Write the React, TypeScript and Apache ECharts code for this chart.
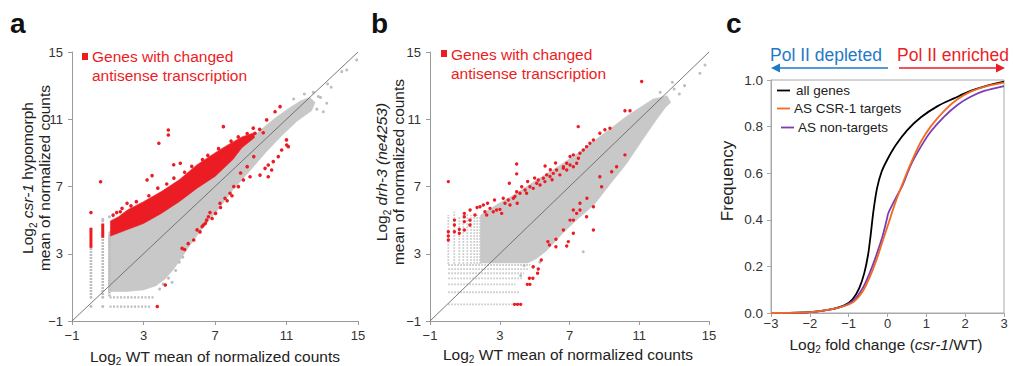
import React, { useEffect, useRef } from 'react';
import * as echarts from 'echarts';

const FONT = '"Liberation Sans", Arial, Helvetica, sans-serif';

// ---------- axes ----------
const scatterMin = -1;
const scatterMax = 15;
const scatterStep = 4;
const cdfXMin = -3;
const cdfXMax = 3;
const cdfXStep = 1;
const cdfYMin = 0;
const cdfYMax = 1;
const cdfYStep = 0.2;

// ---------- panel a (csr-1 hypomorph vs WT) ----------
const cloudA = [
  [1.05, 0.75], [1.05, 4.3], [2.0, 4.7], [3.0, 5.1], [4.0, 5.7], [5.0, 6.4], [6.0, 7.2], [7.0, 8.0],
  [8.0, 8.9], [9.0, 9.8], [9.6, 10.4], [10.4, 11.1], [11.2, 11.7], [11.8, 12.1], [12.3, 12.3],
  [12.6, 12.0], [12.4, 11.5], [11.6, 10.9], [10.8, 10.1], [9.9, 9.1], [9.0, 8.0], [8.0, 6.8],
  [7.3, 5.8], [6.6, 4.9], [6.0, 4.1], [5.4, 3.2], [4.7, 2.1], [4.2, 1.5], [3.7, 1.1], [3.0, 0.85], [2.0, 0.75],
];
const redBandA = [
  [1.15, 4.95], [1.6, 5.2], [2.1, 5.6], [3.0, 6.1], [4.0, 6.7], [5.0, 7.4], [6.0, 8.3], [7.0, 9.0],
  [7.6, 9.4], [8.5, 9.95], [9.2, 10.2], [9.2, 9.9], [8.5, 9.3], [8.0, 8.6], [7.0, 7.6], [6.0, 6.9],
  [5.0, 6.1], [4.0, 5.4], [3.0, 4.8], [2.0, 4.4], [1.15, 4.05],
];
const grayStripesA = [[0.06, 0.55, 3.35], [0.72, 0.55, 3.95], [1.09, 0.45, 4.1]];
const redStripesA = [[0.06, 3.35, 4.55], [0.72, 3.95, 4.8]];
const grayRowsA = [[0.41, 1.1, 3.64], [-0.14, 1.1, 3.45]];
const redPointsA = [
  [0.06, 5.45], [0.6, 7.28], [1.7, 5.5], [2.08, 6.0], [3.2, 7.39], [3.48, 7.65], [3.86, 9.57], [4.39, 10.36],
  [4.39, 10.06], [4.69, 8.29], [5.06, 8.38], [7.47, 10.56], [8.96, 9.97], [9.14, 10.47], [9.24, 10.17],
  [9.89, 10.96], [10.36, 11.45], [10.64, 11.75],
  [1.3, 5.3], [1.5, 5.45], [1.8, 5.7], [2.3, 5.85], [2.6, 6.1], [3.3, 6.45], [3.8, 6.9], [4.3, 7.15],
  [4.7, 7.5], [5.3, 7.85], [5.7, 8.2], [6.3, 8.6], [6.6, 8.85], [7.2, 9.25], [7.9, 9.7], [8.3, 9.95],
  [8.8, 10.15], [9.5, 10.4], [9.7, 10.2],
  [3.77, -0.14], [4.22, 1.14], [5.16, 3.32], [5.3, 3.25], [5.5, 3.6], [5.81, 3.82], [6.0, 4.42], [6.16, 4.3],
  [6.28, 4.62], [6.46, 4.81], [6.35, 4.71], [6.53, 5.0], [6.63, 5.2], [6.84, 5.1], [7.03, 5.4], [6.72, 5.45],
  [7.28, 6.0], [7.31, 5.75], [7.56, 6.3], [7.68, 6.15], [7.84, 6.6], [7.95, 6.45], [8.05, 7.0], [8.31, 6.99],
  [8.43, 7.8], [8.59, 7.39], [8.8, 8.18], [8.96, 7.58], [9.17, 8.78], [9.52, 7.68], [9.8, 8.08], [9.98, 7.58],
  [9.98, 8.28], [10.17, 7.98], [10.26, 8.48], [10.54, 8.78], [10.73, 9.17], [11.0, 9.77], [11.01, 9.47], [11.1, 9.37],
];
const grayPointsA = [
  [0.06, 0.41], [0.72, 0.41], [0.06, -0.14], [0.72, -0.14], [0.72, 5.05], [0.72, 4.95], [1.09, 5.2],
  [3.9, 0.9], [4.1, 1.2], [4.4, 1.55], [4.6, 1.3], [4.8, 2.0], [5.0, 2.5], [5.2, 2.8],
  [12.78, 12.35], [13.06, 11.45], [13.25, 11.95], [14.09, 13.83], [14.37, 13.93], [14.93, 14.53],
  [12.5, 12.6], [12.9, 12.3], [12.0, 12.5], [11.4, 12.2], [13.5, 12.9], [12.7, 11.6], [13.3, 13.1],
];

// ---------- panel b (drh-3 vs WT) ----------
const cloudB = [
  [1.9, 2.45], [1.9, 5.3], [2.8, 5.9], [3.8, 6.5], [4.7, 7.1], [5.6, 7.7], [6.5, 8.3], [7.5, 9.0],
  [8.4, 9.7], [9.3, 10.4], [10.3, 11.2], [11.2, 11.8], [11.8, 12.2], [12.6, 12.4], [12.8, 12.0],
  [12.5, 11.7], [12.0, 11.0], [11.2, 9.8], [10.3, 8.4], [9.3, 7.1], [8.4, 5.9], [7.5, 5.1], [6.6, 4.2],
  [5.7, 3.2], [5.1, 2.7], [4.6, 2.45],
];
const grayStripesB = [
  [0.05, 2.4, 5.3], [0.39, 2.4, 5.5], [0.68, 2.4, 5.2], [0.91, 2.4, 5.3], [1.14, 2.4, 5.4],
  [1.35, 2.4, 5.3], [1.54, 2.4, 5.4], [1.71, 2.4, 5.3], [1.87, 2.4, 5.2],
];
const grayRowsB = [
  [-0.01, 0.05, 3.8], [0.71, 0.05, 4.17], [1.18, 0.05, 3.9], [1.54, 0.05, 4.3],
  [1.84, 0.05, 4.4], [2.09, 0.05, 4.65], [2.33, 0.05, 4.75],
];
const redPointsB = [
  [0.05, 7.29], [0.05, 4.31], [0.05, 4.06], [0.05, 3.82], [0.4, 5.0], [0.4, 4.71], [0.4, 4.31], [0.68, 4.45],
  [0.68, 4.22], [0.97, 5.4], [0.97, 5.2], [0.97, 4.91], [0.97, 4.41], [1.29, 4.71], [1.29, 5.0], [1.58, 5.31],
  [1.87, 5.8], [2.06, 5.9], [2.15, 5.5], [2.25, 5.31], [2.44, 5.7], [2.63, 5.5], [2.82, 5.6], [3.01, 5.64],
  [3.11, 5.4], [3.3, 6.0], [3.49, 6.2], [3.59, 5.9], [3.78, 6.3], [3.87, 6.4], [3.97, 6.69], [4.16, 6.6],
  [4.26, 6.99], [4.45, 6.79], [4.54, 6.6], [4.73, 6.99], [4.92, 6.89], [5.12, 7.19], [5.21, 7.39], [5.31, 7.09],
  [5.5, 7.49], [5.59, 7.29], [5.69, 7.69], [5.88, 7.59], [6.07, 7.78], [6.26, 7.98], [6.45, 7.69], [6.65, 8.08],
  [6.84, 7.98], [7.03, 8.28], [7.22, 8.18], [7.41, 8.38], [7.51, 8.68], [6.65, 8.18], [6.84, 8.38], [7.03, 8.78],
  [7.22, 8.88], [7.6, 8.98], [7.79, 9.17], [7.98, 9.37], [8.17, 9.57], [8.37, 9.77], [8.74, 10.17], [9.03, 10.37],
  [9.32, 10.47], [10.18, 11.51], [10.47, 11.51], [11.14, 13.24], [7.5, 10.56], [3.97, 8.34], [3.97, 7.75],
  [3.55, 7.19], [5.6, 8.22], [1.3, 5.6], [1.7, 5.75], [2.3, 6.0], [2.7, 6.2], [3.2, 6.3], [4.0, 6.0],
  [4.6, 7.3], [5.0, 7.5], [5.9, 8.0], [6.2, 8.4], [6.0, 7.4],
  [3.85, -0.01], [4.02, -0.01], [4.2, -0.01], [4.58, 1.18], [4.73, 1.18], [4.7, 1.54], [4.9, 1.54],
  [5.17, 1.84], [5.21, 2.09], [4.92, 2.23], [5.38, 2.63], [5.76, 3.72], [5.85, 3.52], [6.22, 3.42],
  [6.22, 3.86], [6.93, 3.72], [7.22, 4.22], [6.84, 3.46], [6.65, 4.41], [7.22, 5.0], [7.41, 5.4], [7.6, 5.6],
  [7.03, 5.0], [7.22, 5.6], [7.6, 6.0], [7.98, 5.2], [8.0, 6.3], [8.37, 5.8], [8.84, 6.99], [8.74, 7.58],
  [9.42, 7.88], [9.7, 8.18], [10.18, 8.88], [8.37, 4.41],
];
const grayPointsB = [
  [14.48, 13.73], [14.77, 14.23], [7.79, 3.12], [13.0, 12.8], [13.3, 12.5], [12.9, 13.2], [13.6, 13.0],
  [4.4, 2.3], [4.9, 2.2], [5.3, 2.5], [4.2, 1.7], [12.2, 12.6],
];

// ---------- panel c (cumulative frequency) ----------
const allGenes = [
  [-3, 0], [-2, 0.004], [-1.46, 0.016], [-1.11, 0.033], [-0.9, 0.059], [-0.73, 0.106], [-0.6, 0.17],
  [-0.5, 0.25], [-0.43, 0.34], [-0.36, 0.44], [-0.27, 0.535], [-0.15, 0.607], [0, 0.66], [0.21, 0.72],
  [0.51, 0.785], [0.86, 0.84], [1.29, 0.888], [1.71, 0.921], [2.14, 0.953], [2.57, 0.976], [3, 0.993],
];
const csr1Targets = [
  [-3, 0], [-2, 0.004], [-1.46, 0.016], [-1.11, 0.03], [-0.86, 0.049], [-0.64, 0.092], [-0.47, 0.149],
  [-0.3, 0.22], [-0.13, 0.306], [0.04, 0.392], [0.21, 0.478], [0.39, 0.556], [0.6, 0.642], [0.86, 0.735],
  [1.11, 0.8], [1.46, 0.868], [1.8, 0.917], [2.14, 0.95], [2.49, 0.971], [3, 0.989],
];
const nonTargets = [
  [-3, 0], [-2, 0.004], [-1.46, 0.016], [-1.11, 0.031], [-0.86, 0.056], [-0.64, 0.106], [-0.47, 0.167],
  [-0.3, 0.242], [-0.13, 0.328], [-0.02, 0.4], [0.02, 0.428], [0.21, 0.492], [0.39, 0.549], [0.6, 0.635],
  [0.86, 0.714], [1.11, 0.778], [1.46, 0.843], [1.8, 0.893], [2.14, 0.928], [2.49, 0.953], [3, 0.974],
];

const RED = '#ec1c24';
const GRAY = '#c8c8c8';
const AXIS = '#9a9a9a';

const fmtMinus = (v: number) => String(v).replace('-', '\u2212');

function polygonSeries(points: number[][], color: string, gi: number) {
  return {
    type: 'custom', xAxisIndex: gi, yAxisIndex: gi, silent: true,
    data: [[points[0][0], points[0][1]]],
    renderItem: (_p: any, api: any) => ({
      type: 'polygon',
      shape: { points: points.map((pt) => api.coord(pt)) },
      style: { fill: color, stroke: color, lineWidth: 0.6 },
    }),
  };
}

function vSegSeries(segs: number[][], color: string, width: number, dash: number[] | null, gi: number) {
  return {
    type: 'custom', xAxisIndex: gi, yAxisIndex: gi, silent: true,
    data: segs,
    renderItem: (_p: any, api: any) => {
      const a = api.coord([api.value(0), api.value(1)]);
      const b = api.coord([api.value(0), api.value(2)]);
      return {
        type: 'line',
        shape: { x1: a[0], y1: a[1], x2: b[0], y2: b[1] },
        style: { stroke: color, lineWidth: width, lineDash: dash || undefined },
      };
    },
  };
}

function hSegSeries(segs: number[][], color: string, width: number, dash: number[] | null, gi: number) {
  return {
    type: 'custom', xAxisIndex: gi, yAxisIndex: gi, silent: true,
    data: segs.map((s) => [s[1], s[0], s[2]]),
    renderItem: (_p: any, api: any) => {
      const a = api.coord([api.value(0), api.value(1)]);
      const b = api.coord([api.value(2), api.value(1)]);
      return {
        type: 'line',
        shape: { x1: a[0], y1: a[1], x2: b[0], y2: b[1] },
        style: { stroke: color, lineWidth: width, lineDash: dash || undefined },
      };
    },
  };
}

function scatterSeries(data: number[][], color: string, size: number, gi: number) {
  return {
    type: 'scatter', xAxisIndex: gi, yAxisIndex: gi, silent: true,
    data, symbol: 'circle', symbolSize: size, itemStyle: { color, opacity: 1 },
  };
}

function diagSeries(gi: number) {
  return {
    type: 'line', xAxisIndex: gi, yAxisIndex: gi, silent: true, showSymbol: false,
    data: [[scatterMin, scatterMin], [scatterMax, scatterMax]],
    lineStyle: { color: '#6a6a6a', width: 0.9 },
  };
}

function cdfSeries(data: number[][], color: string) {
  return {
    type: 'line', xAxisIndex: 2, yAxisIndex: 2, silent: true, showSymbol: false,
    smooth: 0.3, data,
    lineStyle: { color, width: 1.8 },
  };
}

const tickLabel = { color: '#333', fontSize: 13, fontFamily: FONT };

function scatterAxis(gi: number, isY: boolean) {
  return {
    gridIndex: gi, type: 'value', min: scatterMin, max: scatterMax, interval: scatterStep,
    splitLine: { show: false },
    axisLine: { show: true, onZero: false, lineStyle: { color: AXIS, width: 1 } },
    axisTick: { show: true, length: 4, lineStyle: { color: AXIS } },
    axisLabel: { ...tickLabel, margin: isY ? 9 : 8, formatter: fmtMinus, showMinLabel: true, showMaxLabel: true },
  };
}

const richBase = {
  n: { fontSize: 15.5, fontFamily: FONT, fill: '#222', verticalAlign: 'middle', lineHeight: 17 },
  i: { fontSize: 15.5, fontFamily: FONT, fontStyle: 'italic', fill: '#222', verticalAlign: 'middle', lineHeight: 17 },
  s: { fontSize: 10, fontFamily: FONT, fill: '#222', verticalAlign: 'bottom', height: 6 },
};

function richText(x: number, y: number, text: string, rot = 0, extra: any = {}) {
  return {
    type: 'text', x, y, rotation: rot, silent: true,
    style: {
      text, rich: extra.rich || richBase, align: 'center', verticalAlign: 'middle',
      textAlign: 'center', textVerticalAlign: 'middle', fontSize: 15.5, fontFamily: FONT, fill: '#222',
    },
  };
}

function plainText(x: number, y: number, text: string, opts: any) {
  return {
    type: 'text', x, y, silent: true,
    style: {
      text, fontFamily: FONT, align: opts.align || 'left', textAlign: opts.align || 'left',
      verticalAlign: 'middle', textVerticalAlign: 'middle',
      fontSize: opts.size, fontWeight: opts.weight || 'normal', fill: opts.color || '#222',
      lineHeight: opts.lineHeight,
    },
  };
}

export default function App() {
  const ref = useRef<HTMLDivElement>(null);

  useEffect(() => {
    if (!ref.current) return;
    const chart = echarts.init(ref.current, undefined, { renderer: 'svg' });

    const legendLines = [
      { y: 90.5, color: '#000000', x1: 777, x2: 790, text: 'all genes', tx: 796 },
      { y: 108.5, color: '#f26b21', x1: 777, x2: 790, text: 'AS CSR-1 targets', tx: 794 },
      { y: 127.5, color: '#7a3db8', x1: 781, x2: 794, text: 'AS non-targets', tx: 798 },
    ];

    const option: any = {
      animation: false,
      backgroundColor: '#ffffff',
      grid: [
        { left: 72, top: 52, width: 286, height: 269 },
        { left: 430, top: 52, width: 279, height: 269 },
        { left: 771, top: 80, width: 233, height: 233, show: true, borderColor: '#a8a8a8', borderWidth: 1, backgroundColor: 'transparent' },
      ],
      xAxis: [
        scatterAxis(0, false),
        scatterAxis(1, false),
        {
          gridIndex: 2, type: 'value', min: cdfXMin, max: cdfXMax, interval: cdfXStep,
          splitLine: { show: false },
          axisLine: { show: true, onZero: false, lineStyle: { color: '#a8a8a8' } },
          axisTick: { show: true, length: 4, lineStyle: { color: '#a8a8a8' } },
          axisLabel: { ...tickLabel, fontSize: 13, margin: 4, formatter: fmtMinus, showMinLabel: true, showMaxLabel: true },
        },
      ],
      yAxis: [
        scatterAxis(0, true),
        scatterAxis(1, true),
        {
          gridIndex: 2, type: 'value', min: cdfYMin, max: cdfYMax, interval: cdfYStep,
          splitLine: { show: false },
          axisLine: { show: true, onZero: false, lineStyle: { color: '#a8a8a8' } },
          axisTick: { show: true, length: 4, lineStyle: { color: '#a8a8a8' } },
          axisLabel: { ...tickLabel, fontSize: 13.5, margin: 8, formatter: (v: number) => v.toFixed(1), showMinLabel: true, showMaxLabel: true },
        },
      ],
      series: [
        // panel a
        polygonSeries(cloudA, GRAY, 0),
        vSegSeries(grayStripesA, '#bdbdbd', 2.6, [2, 1], 0),
        hSegSeries(grayRowsA, '#bdbdbd', 2.2, [2, 1.5], 0),
        scatterSeries(grayPointsA, '#bdbdbd', 3, 0),
        diagSeries(0),
        polygonSeries(redBandA, RED, 0),
        vSegSeries(redStripesA, RED, 3, null, 0),
        scatterSeries(redPointsA, RED, 3.6, 0),
        // panel b
        polygonSeries(cloudB, GRAY, 1),
        vSegSeries(grayStripesB, '#c4c4c4', 1.8, [1.5, 1.5], 1),
        hSegSeries(grayRowsB, '#c4c4c4', 1.8, [1.5, 1.5], 1),
        scatterSeries(grayPointsB, '#bdbdbd', 3, 1),
        diagSeries(1),
        scatterSeries(redPointsB, RED, 3.4, 1),
        // panel c (orange drawn last, on top, as in the reference)
        cdfSeries(allGenes, '#000000'),
        cdfSeries(nonTargets, '#7a3db8'),
        cdfSeries(csr1Targets, '#f26b21'),
      ],
      graphic: [
        // panel letters
        plainText(10, 23, 'a', { size: 28, weight: 'bold', color: '#111' }),
        plainText(371, 23, 'b', { size: 28, weight: 'bold', color: '#111' }),
        plainText(726, 23, 'c', { size: 28, weight: 'bold', color: '#111' }),
        // panel a legend
        { type: 'rect', shape: { x: 82, y: 53, width: 6, height: 7 }, style: { fill: RED }, silent: true },
        plainText(92, 66, 'Genes with changed\nantisense transcription', { size: 15.5, color: RED, lineHeight: 19 }),
        // panel b legend
        { type: 'rect', shape: { x: 441, y: 50, width: 6, height: 7 }, style: { fill: RED }, silent: true },
        plainText(451, 64, 'Genes with changed\nantisense transcription', { size: 15.5, color: RED, lineHeight: 19 }),
        // axis titles a
        richText(36, 178, '{n|Log}{s|2}{n| }{i|csr-1}{n| hypomorph}\n{n|mean of normalized counts}', Math.PI / 2),
        richText(215, 356, '{n|Log}{s|2}{n| WT mean of normalized counts}'),
        // axis titles b
        richText(390, 172, '{n|Log}{s|2}{n| }{i|drh-3 (ne4253)}\n{n|mean of normalized counts}', Math.PI / 2),
        richText(568, 354, '{n|Log}{s|2}{n| WT mean of normalized counts}'),
        // axis titles c
        richText(727, 181, '{f|Frequency}', Math.PI / 2, { rich: { f: { fontSize: 17, fontFamily: FONT, fill: '#222' } } }),
        richText(886, 344, '{n|Log}{s|2}{n| fold change (}{i|csr-1}{n|/WT)}'),
        // panel c direction labels and arrows
        plainText(770, 55, 'Pol II depleted', { size: 17.5, color: '#1f7ac6' }),
        plainText(897, 55, 'Pol II enriched', { size: 17.5, color: RED }),
        { type: 'line', shape: { x1: 888, y1: 68, x2: 778, y2: 68 }, style: { stroke: '#1f7ac6', lineWidth: 1.6 }, silent: true },
        { type: 'polygon', shape: { points: [[771, 68], [780, 63.5], [780, 72.5]] }, style: { fill: '#1f7ac6' }, silent: true },
        { type: 'line', shape: { x1: 899, y1: 68, x2: 998, y2: 68 }, style: { stroke: RED, lineWidth: 1.6 }, silent: true },
        { type: 'polygon', shape: { points: [[1005, 68], [996, 63.5], [996, 72.5]] }, style: { fill: RED }, silent: true },
        // panel c legend
        ...legendLines.flatMap((l) => [
          { type: 'line', shape: { x1: l.x1, y1: l.y, x2: l.x2, y2: l.y }, style: { stroke: l.color, lineWidth: 1.8 }, silent: true },
          plainText(l.tx, l.y, l.text, { size: 13.5, color: '#222' }),
        ]),
      ],
    };

    chart.setOption(option);
    return () => chart.dispose();
  }, []);

  return <div ref={ref} style={{ position: 'absolute', left: 0, top: 0, width: 1013, height: 366 }} />;
}
